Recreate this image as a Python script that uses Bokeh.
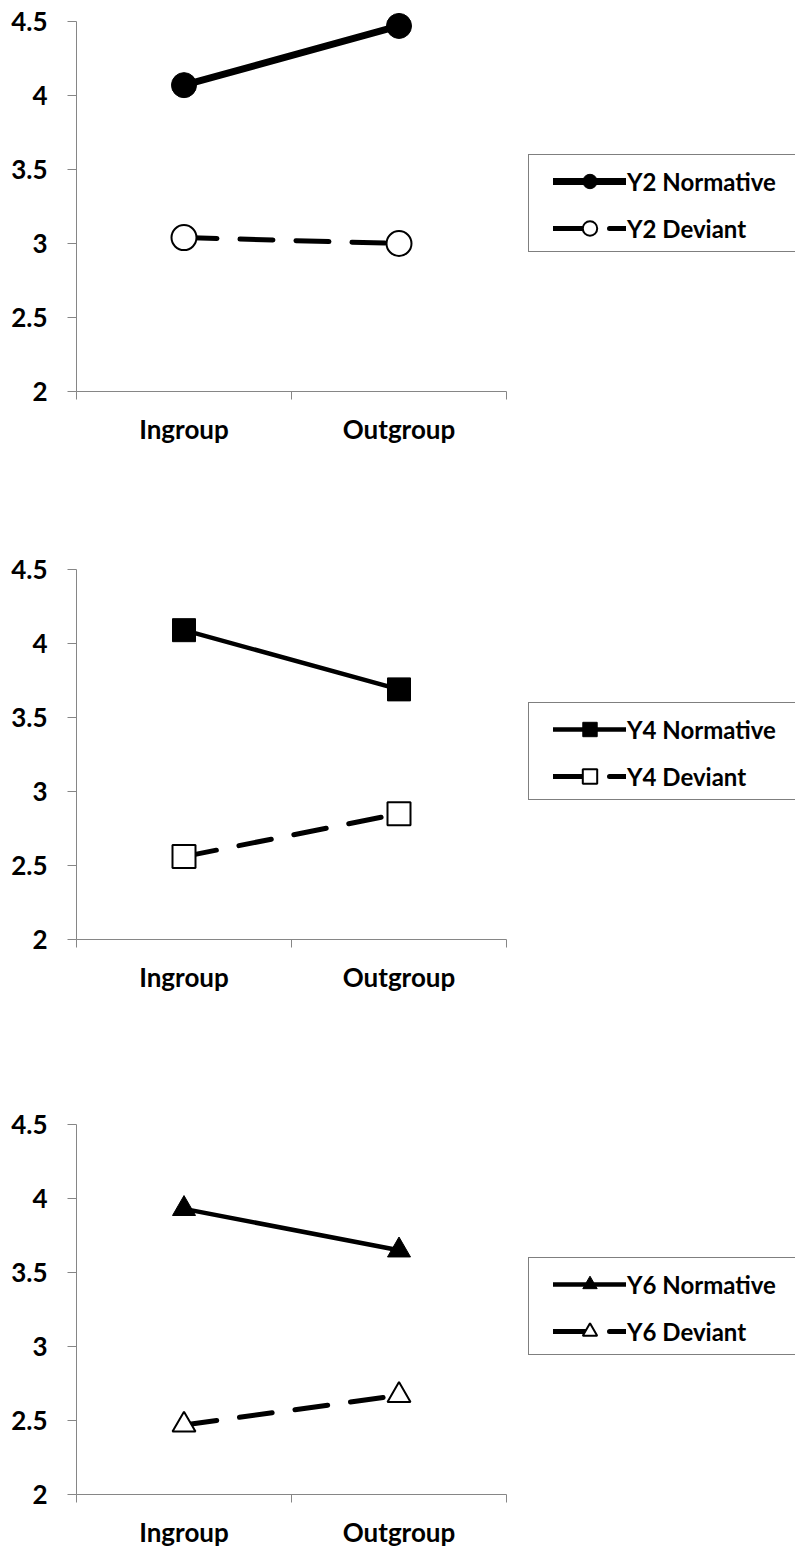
from bokeh.plotting import figure
from bokeh.models import Range1d, FixedTicker, Legend, LegendItem
from bokeh.layouts import column
from bokeh.embed import file_html
from bokeh.resources import INLINE

# ---------------- data ----------------
categories = ["Ingroup", "Outgroup"]
y_ticks = [2, 2.5, 3, 3.5, 4, 4.5]
y_tick_labels = ["2", "2.5", "3", "3.5", "4", "4.5"]

y2_normative = [4.07, 4.47]
y2_deviant = [3.04, 3.00]
y4_normative = [4.09, 3.69]
y4_deviant = [2.56, 2.85]
y6_normative = [3.93, 3.65]
y6_deviant = [2.47, 2.67]

series_labels = [("Y2 Normative", "Y2 Deviant"),
                 ("Y4 Normative", "Y4 Deviant"),
                 ("Y6 Normative", "Y6 Deviant")]

# ---------------- style ----------------
FONT = "Lato"
AXIS_COLOR = "#868686"
AXIS_W = 430          # width of the drawn x axis (px)
FRAME_W = 719         # frame extends to the right so the legend sits inside it
FRAME_H = 370         # height from 2 to 4.5
PAD_TOP = 21
DASH = "33 23"

panel_styles = [
    dict(marker="circle", size=25, lw_n=7, lw_d=5, border_bottom=157),
    dict(marker="square", size=23, lw_n=4.5, lw_d=5, border_bottom=164),
    dict(marker="triangle", size=23, lw_n=4.5, lw_d=5, border_bottom=52),
]


def make_panel(labels, norm_vals, dev_vals, st):
    px_per_unit = FRAME_H / (y_ticks[-1] - y_ticks[0])
    n = len(categories)
    p = figure(frame_width=FRAME_W, frame_height=FRAME_H + PAD_TOP,
               min_border_left=76, min_border_right=0,
               min_border_top=0, min_border_bottom=st["border_bottom"],
               x_range=Range1d(0, n * FRAME_W / AXIS_W),
               y_range=Range1d(y_ticks[0], y_ticks[-1] + PAD_TOP / px_per_unit),
               output_backend="svg", toolbar_location=None)
    p.outline_line_color = None
    p.xgrid.visible = False
    p.ygrid.visible = False
    p.background_fill_color = "white"
    p.border_fill_color = "white"

    xs = [i + 0.5 for i in range(n)]

    ln_n = p.line(xs, norm_vals, line_color="black", line_width=st["lw_n"],
                  line_cap="round", line_join="round")
    sc_n = p.scatter(xs, norm_vals, marker=st["marker"], size=st["size"],
                     fill_color="black", line_color="black", line_width=1)
    ln_d = p.line(xs, dev_vals, line_color="black", line_width=st["lw_d"],
                  line_dash=DASH, line_cap="round")
    sc_d = p.scatter(xs, dev_vals, marker=st["marker"], size=st["size"],
                     fill_color="white", line_color="black", line_width=2)

    # y axis
    ya = p.yaxis[0]
    ya.ticker = FixedTicker(ticks=y_ticks, minor_ticks=[])
    ya.major_label_overrides = {t: l for t, l in zip(y_ticks, y_tick_labels)}
    ya.bounds = (y_ticks[0], y_ticks[-1])
    ya.axis_line_color = AXIS_COLOR
    ya.major_tick_line_color = AXIS_COLOR
    ya.major_tick_out = 9
    ya.major_tick_in = 0
    ya.minor_tick_line_color = None
    ya.major_label_standoff = 20
    ya.major_label_text_font = FONT
    ya.major_label_text_font_style = "bold"
    ya.major_label_text_font_size = "26px"
    ya.major_label_text_color = "black"

    # x axis
    xa = p.xaxis[0]
    xa.ticker = FixedTicker(ticks=xs, minor_ticks=list(range(n + 1)))
    xa.major_label_overrides = {x: c for x, c in zip(xs, categories)}
    xa.bounds = (0, n)
    xa.axis_line_color = AXIS_COLOR
    xa.major_tick_line_color = None
    xa.major_tick_out = 0
    xa.major_tick_in = 0
    xa.minor_tick_line_color = AXIS_COLOR
    xa.minor_tick_out = 8
    xa.minor_tick_in = 0
    xa.major_label_standoff = 13
    xa.major_label_text_font = FONT
    xa.major_label_text_font_style = "bold"
    xa.major_label_text_font_size = "26px"
    xa.major_label_text_color = "black"

    # legend frame (box) and legend content
    ghost = p.line(xs, norm_vals, line_alpha=0)
    box = Legend(items=[LegendItem(label=" ", renderers=[ghost])],
                 location=(452, 139), glyph_width=265, glyph_height=96,
                 label_width=1, label_height=1, label_standoff=0,
                 padding=0, margin=0, spacing=0,
                 label_text_font_size="1px",
                 border_line_color="black", border_line_width=1,
                 background_fill_color="white", background_fill_alpha=1)
    leg = Legend(items=[LegendItem(label=labels[0], renderers=[ln_n, sc_n]),
                        LegendItem(label=labels[1], renderers=[ln_d, sc_d])],
                 location=(477, 145), glyph_width=73, glyph_height=36,
                 label_standoff=1, padding=0, margin=0, spacing=11,
                 border_line_color=None, background_fill_alpha=0,
                 label_text_font=FONT, label_text_font_style="bold",
                 label_text_font_size="24px", label_text_color="black")
    p.add_layout(box, "center")
    p.add_layout(leg, "center")
    return p


panels = [
    make_panel(series_labels[i], vals[0], vals[1], panel_styles[i])
    for i, vals in enumerate([(y2_normative, y2_deviant),
                              (y4_normative, y4_deviant),
                              (y6_normative, y6_deviant)])
]

layout = column(*panels, spacing=0)
open("out.html", "w").write(file_html(layout, INLINE))
